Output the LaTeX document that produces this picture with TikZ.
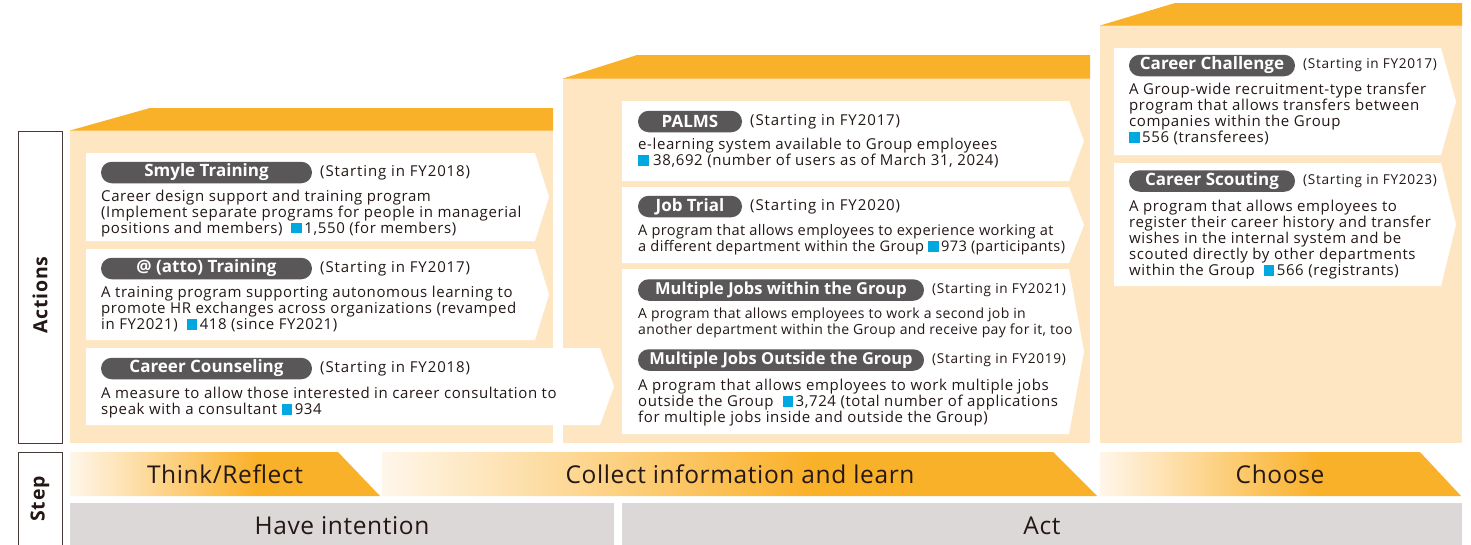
\documentclass[tikz,border=0pt]{standalone}
\usepackage{fontspec}
\setmainfont{Open Sans}
\usetikzlibrary{shapes.misc}
\definecolor{peach}{HTML}{FEE6C3}
\definecolor{orng}{HTML}{FAB12A}
\definecolor{pillgray}{HTML}{595757}
\definecolor{bandgray}{HTML}{DCD8D7}
\definecolor{txt}{HTML}{231815}
\definecolor{sqc}{HTML}{00A8E1}
\definecolor{lightstart}{HTML}{FFF6EA}
\newcommand\sqb{\textcolor{sqc}{\rule[-0.3pt]{10.5pt}{10.5pt}}}
\pgfdeclarehorizontalshading{stepshade}{100bp}{color(0bp)=(lightstart); color(25bp)=(lightstart); color(55bp)=(orng); color(100bp)=(orng)}
\tikzset{
  col/.style={fill=peach, draw=none},
  topband/.style={fill=orng, draw=none},
  card/.style={fill=white, draw=none},
  pill/.style={rounded rectangle, fill=pillgray, minimum height=21.5pt, inner sep=0pt, text=white, font=\fontsize{17}{18}\selectfont\bfseries},
  pillsm/.style={pill, font=\fontsize{16.5}{18}\selectfont\bfseries},
  since/.style={anchor=west, inner sep=0pt, text=txt, font=\fontsize{15}{16}\selectfont\addfontfeatures{LetterSpace=6}},
  sincesm/.style={since, font=\fontsize{13.6}{16}\selectfont\addfontfeatures{LetterSpace=5}},
  body/.style={anchor=north west, inner sep=0pt, text=txt, align=left, font=\fontsize{15}{16}\selectfont\addfontfeatures{LetterSpace=4}},
  bodyn/.style={body, font=\fontsize{14.6}{16}\selectfont\addfontfeatures{LetterSpace=2.5}},
  bodysm/.style={body, font=\fontsize{14}{16}\selectfont\addfontfeatures{LetterSpace=2.5}},
  stepshape/.style={shading=stepshade, draw=none},
  steplbl/.style={text=txt, inner sep=0pt, font=\fontsize{24.5}{26}\selectfont\addfontfeatures{LetterSpace=2.5}},
  grayband/.style={fill=bandgray, draw=none},
  sidebox/.style={draw=txt!85, line width=0.9pt, fill=white},
  sidelbl/.style={text=txt, rotate=90, inner sep=0pt, font=\fontsize{19.5}{20}\selectfont\bfseries\addfontfeatures{LetterSpace=4}},
}
\newcommand\cardpath[5]{\path[card] (#1,#2) -- (#3,#2) -- (#5,{(#2+#4)/2}) -- (#3,#4) -- (#1,#4) -- cycle;}
\begin{document}
\begin{tikzpicture}[x=1pt,y=-1pt]
\useasboundingbox[fill=white] (0,0) rectangle (1471,544);

% side labels
\path[sidebox] (18,131) rectangle (62,443);
\node[sidelbl] (actions) at (40,295) {Actions};
\draw[txt!85, line width=0.9pt, fill=white] (18,546) -- (18,452) -- (62,452) -- (62,546);
\node[sidelbl] (step) at (40,499) {Step};

% columns
\path[col] (70,130) rectangle (553,443);
\path[topband] (70,130.5) -- (150,108) -- (553,108) -- (553,130.5) -- cycle;
\path[col] (563,78) rectangle (1090,443);
\path[topband] (563,78.5) -- (637,55) -- (1090,55) -- (1090,78.5) -- cycle;
\path[col] (1100,25) rectangle (1462,443);
\path[topband] (1100,25.5) -- (1175,3) -- (1462,3) -- (1462,25.5) -- cycle;

% left column cards
\cardpath{86}{153}{535}{241}{549}
\node[pill, minimum width=211pt] (smyle) at (206.5,172.5) {Smyle Training};
\node[since] (smyleS) at (320,172.5) {(Starting in FY2018)};
\node[body] (smyleB) at (101,189.5) {Career design support and training program\\(Implement separate programs for people in managerial\\positions and members)\ \ \sqb\,1,550 (for members)};

\cardpath{86}{249}{535}{340}{549}
\node[pill, minimum width=211pt] (atto) at (206.5,268.5) {@ (atto) Training};
\node[since] (attoS) at (320,268.5) {(Starting in FY2017)};
\node[body] (attoB) at (101,286) {A training program supporting autonomous learning to\\promote HR exchanges across organizations (revamped\\in FY2021)\ \ \sqb\,418 (since FY2021)};

\cardpath{86}{348}{600}{425}{614}
\node[pill, minimum width=211pt] (couns) at (206.5,368.5) {Career Counseling};
\node[since] (counsS) at (320,368.5) {(Starting in FY2018)};
\node[body] (counsB) at (101,387) {A measure to allow those interested in career consultation to\\speak with a consultant \sqb\,934};

% middle column cards
\cardpath{622}{101}{1069}{181}{1084}
\node[pill, minimum width=104pt] (palms) at (690,121.5) {PALMS};
\node[since] (palmsS) at (750,121.5) {(Starting in FY2017)};
\node[body] (palmsB) at (638,138) {e-learning system available to Group employees\\\sqb\ 38,692 (number of users as of March 31, 2024)};

\cardpath{622}{187}{1069}{263}{1084}
\node[pill, minimum width=104pt] (jobt) at (690,206.5) {Job Trial};
\node[since] (jobtS) at (750,206.5) {(Starting in FY2020)};
\node[bodyn] (jobtB) at (638,224) {A program that allows employees to experience working at\\a different department within the Group \sqb\,973 (participants)};

\cardpath{622}{269}{1069}{434}{1084}
\node[pillsm, minimum width=286pt] (mjin) at (781,290) {Multiple Jobs within the Group};
\node[sincesm] (mjinS) at (932,290) {(Starting in FY2021)};
\node[bodysm] (mjinB) at (638,308) {A program that allows employees to work a second job in\\another department within the Group and receive pay for it, too};
\node[pillsm, minimum width=286pt] (mjout) at (781,360) {Multiple Jobs Outside the Group};
\node[sincesm] (mjoutS) at (932,360) {(Starting in FY2019)};
\node[body] (mjoutB) at (638,379) {A program that allows employees to work multiple jobs\\outside the Group\ \ \sqb\,3,724 (total number of applications\\for multiple jobs inside and outside the Group)};

% right column cards
\cardpath{1114}{48}{1441}{155}{1456}
\node[pill, minimum width=166pt] (cc) at (1212,65.5) {Career Challenge};
\node[sincesm] (ccS) at (1303,65.5) {(Starting in FY2017)};
\node[body] (ccB) at (1129,83) {A Group-wide recruitment-type transfer\\program that allows transfers between\\companies within the Group\\\sqb\,556 (transferees)};

\cardpath{1114}{163}{1441}{286}{1456}
\node[pill, minimum width=166pt] (cs) at (1212,181) {Career Scouting};
\node[sincesm] (csS) at (1303,181) {(Starting in FY2023)};
\node[body] (csB) at (1129,200) {A program that allows employees to\\register their career history and transfer\\wishes in the internal system and be\\scouted directly by other departments\\within the Group\ \ \sqb\,566 (registrants)};

% step arrows
\path[stepshape] (70,452) -- (338,452) -- (380,496) -- (70,496) -- cycle;
\node[steplbl] (think) at (225,474) {Think/Reflect};
\path[stepshape] (382,452) -- (1053,452) -- (1097,496) -- (382,496) -- cycle;
\node[steplbl] (collect) at (740,474) {Collect information and learn};
\path[stepshape] (1100,452) -- (1420,452) -- (1461,496) -- (1100,496) -- cycle;
\node[steplbl] (choose) at (1280,474) {Choose};

% bottom gray bands
\path[grayband] (70,503) rectangle (614,545);
\node[steplbl] (intent) at (342,526) {Have intention};
\path[grayband] (622,503) rectangle (1462,545);
\node[steplbl] (act) at (1042,526) {Act};
\end{tikzpicture}
\end{document}
